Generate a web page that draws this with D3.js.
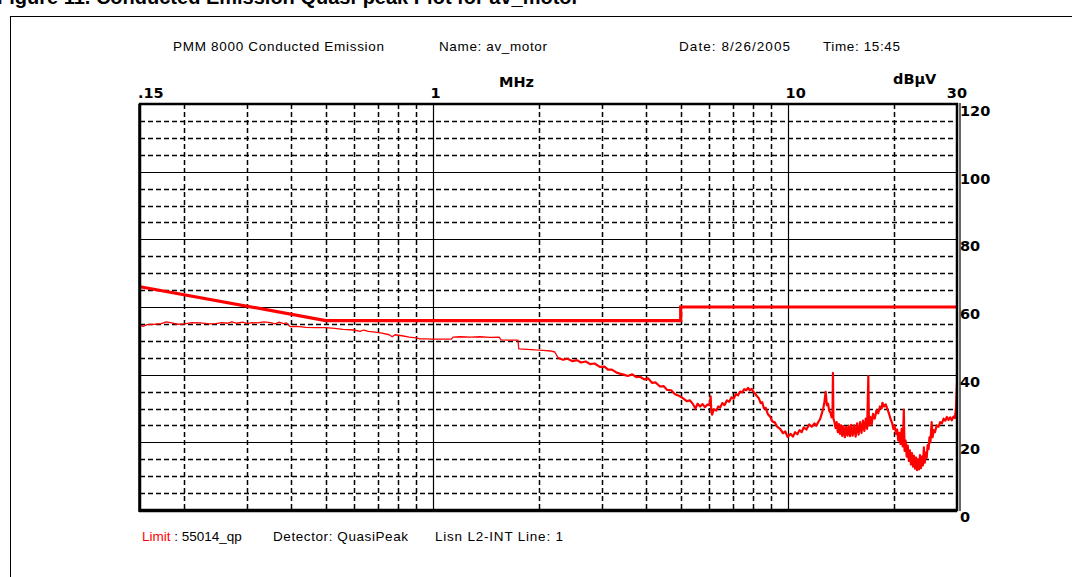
<!DOCTYPE html>
<html>
<head>
<meta charset="utf-8">
<script src="https://cdn.jsdelivr.net/npm/d3@7"></script>
<style>
  body { margin: 0; background: #fff; }
  svg { display: block; }
  .hdr { font-family: "Liberation Sans", Arial, sans-serif; font-size: 13.5px; fill: #000; }
  .ax { font-family: "DejaVu Sans", sans-serif; font-weight: bold; font-size: 14.5px; fill: #000; }
</style>
</head>
<body>
<main></main>
<script>
// limit line 55014 quasi-peak
var limitFreq = [0.15, 0.5, 5, 5, 30];
var limitDb = [66, 56, 56, 60, 60];

var trace = [
  [0.150,54.7],[0.153,54.3],[0.157,54.8],[0.165,54.9],[0.172,55.1],[0.178,55.6],[0.184,55.3],[0.192,54.9],
  [0.200,55.0],[0.210,55.4],[0.222,55.3],[0.235,55.0],[0.245,55.1],[0.255,55.4],[0.265,55.2],[0.272,55.6],
  [0.280,55.2],[0.292,55.5],[0.300,55.1],[0.310,55.4],[0.322,55.3],[0.335,55.6],[0.350,55.4],[0.360,55.0],
  [0.370,55.5],[0.380,55.1],[0.388,55.3],[0.397,54.2],[0.415,54.3],[0.440,54.0],[0.470,53.9],[0.500,53.9],
  [0.530,53.7],[0.560,53.4],[0.600,53.2],[0.625,52.8],[0.640,53.2],[0.660,52.8],[0.689,52.6],[0.720,52.3],
  [0.755,51.8],[0.770,51.2],[0.784,51.8],[0.820,51.5],[0.860,51.1],[0.900,50.9],[0.922,50.6],[0.960,50.6],
  [1.000,50.5],[1.060,50.5],[1.130,50.5],[1.142,51.1],[1.200,51.2],[1.280,51.1],[1.360,51.2],[1.450,51.0],
  [1.540,51.1],[1.560,50.3],[1.650,50.2],[1.740,50.2],[1.750,47.6],[1.850,47.5],[1.950,47.3],[2.050,47.2],
  [2.150,47.0],[2.210,46.7],[2.260,44.9],[2.330,44.4],[2.400,44.7],[2.480,44.0],[2.550,44.3],[2.620,43.6],
  [2.700,43.9],[2.780,43.1],[2.860,43.3],[2.960,42.3],[3.050,42.4],[3.120,41.5],[3.200,41.5],[3.300,40.6],
  [3.370,40.3],[3.450,40.0],[3.550,39.6],[3.650,40.1],[3.750,39.3],[3.840,39.4],[3.950,38.6],[4.050,38.9],
  [4.150,37.6],[4.250,37.7],[4.370,36.5],[4.480,36.6],[4.580,35.5],[4.700,35.4],[4.820,34.2],[4.980,33.6],
  [5.080,33.0],[5.200,32.2],[5.310,32.4],[5.420,31.2],[5.500,30.0],[5.580,31.4],[5.670,30.6],[5.760,31.3],
  [5.850,30.4],[5.950,31.2],[6.030,31.0],[6.070,33.6],[6.100,29.0],[6.130,28.2],[6.200,29.8],[6.300,29.4],
  [6.380,30.6],[6.460,30.3],[6.550,31.6],[6.640,31.0],[6.750,32.4],[6.850,32.0],[6.950,33.3],[7.050,32.9],
  [7.150,34.3],[7.250,33.9],[7.350,35.0],[7.450,34.8],[7.550,35.7],[7.650,35.4],[7.740,36.1],[7.820,35.4],
  [7.920,35.8],[8.020,34.9],[8.100,34.4],[8.200,33.6],[8.300,33.0],[8.400,31.6],[8.480,31.9],[8.580,30.0],
  [8.680,30.2],[8.800,28.3],[8.930,27.6],[9.050,26.2],[9.200,25.9],[9.350,24.6],[9.530,24.0],[9.700,22.7],
  [9.850,23.2],[10.00,21.6],[10.20,22.5],[10.35,21.7],[10.50,23.0],[10.65,22.4],[10.80,23.6],[10.95,23.0],
  [11.10,24.4],[11.30,23.8],[11.50,25.3],[11.70,24.6],[11.90,25.6],[12.05,24.9],[12.20,26.0],[12.35,26.9],
  [12.50,28.7],[12.60,30.0],[12.70,32.0],[12.80,34.9],[12.90,31.0],[13.00,31.4],[13.10,29.3],[13.20,28.8],
  [13.30,27.4],[13.38,28.0],[13.42,40.5],[13.46,27.0],[13.55,26.0],[13.65,24.2],[13.75,26.0],[13.85,23.0],
  [13.95,25.4],[14.05,22.5],[14.15,25.0],[14.25,21.9],[14.35,24.8],[14.50,21.5],[14.60,24.6],[14.75,22.0],
  [14.85,24.9],[15.00,21.8],[15.10,25.2],[15.25,22.0],[15.40,25.0],[15.55,21.7],[15.70,25.6],[15.85,22.3],
  [16.00,26.0],[16.15,22.8],[16.30,26.4],[16.45,23.4],[16.60,27.0],[16.75,24.0],[16.88,39.6],[16.95,25.0],
  [17.10,27.5],[17.25,25.2],[17.40,28.4],[17.60,27.0],[17.80,29.5],[18.00,28.6],[18.20,30.6],[18.40,30.0],
  [18.50,31.7],[18.70,30.6],[18.90,31.2],[19.10,29.8],[19.30,28.5],[19.50,26.9],[19.70,25.7],[19.85,24.0],
  [20.00,25.0],[20.20,22.5],[20.35,23.8],[20.50,20.5],[20.65,22.8],[20.80,19.5],[20.95,24.0],[21.10,18.8],
  [21.25,29.6],[21.35,17.5],[21.50,20.5],[21.65,15.8],[21.80,19.0],[21.95,14.5],[22.10,17.6],[22.25,13.5],
  [22.40,16.8],[22.55,12.8],[22.70,16.0],[22.85,12.2],[23.00,15.5],[23.15,11.8],[23.30,15.0],[23.45,12.0],
  [23.60,16.2],[23.75,12.4],[23.90,15.8],[24.05,13.2],[24.20,18.5],[24.35,14.0],[24.50,17.0],[24.65,15.5],
  [24.80,19.2],[24.95,18.0],[25.10,21.5],[25.25,20.0],[25.45,26.0],[25.60,21.5],[25.80,23.6],[26.00,23.0],
  [26.30,25.0],[26.60,24.6],[26.90,26.0],[27.20,25.6],[27.50,27.0],[27.80,26.4],[28.10,27.5],[28.40,26.6],
  [28.70,27.4],[29.00,26.5],[29.30,27.6],[29.60,27.2],[29.80,30.0],[29.90,33.5],[30.00,37.5]
];

var yMajor = [20, 40, 60, 80, 100];
var yMinor = [5, 10, 15, 25, 30, 35, 45, 50, 55, 65, 70, 75, 85, 90, 95, 105, 110, 115];
var yLabels = [0, 20, 40, 60, 80, 100, 120];
var xMajor = [1, 10];
var xMinor = [0.2, 0.3, 0.4, 0.5, 0.6, 0.7, 0.8, 0.9, 2, 3, 4, 5, 6, 7, 8, 9, 20];
var xLabelText = [".15", "1", "10"];
var xLabelFreq = [0.15, 1, 10];

var margin = { top: 104, left: 140, right: 115, bottom: 67 };
var W = 1072, H = 577;
var w = W - margin.left - margin.right;
var h = H - margin.top - margin.bottom;

var svg = d3.select("main").append("svg")
            .attr("width", W)
            .attr("height", H);

// caption strip, cut off at top of page like the source scan
svg.append("text")
   .attr("x", -3).attr("y", 4)
   .attr("font-family", "Liberation Sans, Arial, sans-serif")
   .attr("font-weight", "bold")
   .attr("font-size", 20)
   .text("Figure 11. Conducted Emission Quasi-peak Plot for av_motor");

// page frame
svg.append("rect")
   .attr("x", 10.5).attr("y", 16.5)
   .attr("width", 1080).attr("height", 600)
   .attr("fill", "none").attr("stroke", "#000").attr("stroke-width", 1);

var x = d3.scaleLog().domain([0.15, 30]).range([0, w]);
var y = d3.scaleLinear().domain([0, 120]).range([h, 0]);

var g = svg.append("g").attr("transform", "translate(" + margin.left + "," + margin.top + ")");

// grid
g.selectAll(".hmin").data(yMinor).enter().append("line")
 .attr("x1", 0).attr("x2", w)
 .attr("y1", function(d) { return Math.round(y(d)) + 0.5; })
 .attr("y2", function(d) { return Math.round(y(d)) + 0.5; })
 .attr("stroke", "#000").attr("stroke-width", 1.5).attr("stroke-dasharray", "5,3");
g.selectAll(".vmin").data(xMinor).enter().append("line")
 .attr("y1", 0).attr("y2", h)
 .attr("x1", function(d) { return Math.round(x(d)) + 0.5; })
 .attr("x2", function(d) { return Math.round(x(d)) + 0.5; })
 .attr("stroke", "#000").attr("stroke-width", 1.5).attr("stroke-dasharray", "5,3");
g.selectAll(".hmaj").data(yMajor).enter().append("line")
 .attr("x1", 0).attr("x2", w)
 .attr("y1", function(d) { return Math.round(y(d)) + 0.5; })
 .attr("y2", function(d) { return Math.round(y(d)) + 0.5; })
 .attr("stroke", "#000").attr("stroke-width", 1.2);
g.selectAll(".vmaj").data(xMajor).enter().append("line")
 .attr("y1", 0).attr("y2", h)
 .attr("x1", function(d) { return Math.round(x(d)) + 0.5; })
 .attr("x2", function(d) { return Math.round(x(d)) + 0.5; })
 .attr("stroke", "#000").attr("stroke-width", 1.2);

// limit
var limitPts = limitFreq.map(function(f, i) { return [f, limitDb[i]]; });
var line = d3.line()
             .x(function(d) { return x(d[0]); })
             .y(function(d) { return y(d[1]); });
g.append("path").datum(limitPts)
 .attr("d", line)
 .attr("fill", "none").attr("stroke", "#ff0000").attr("stroke-width", 3.2);

// trace: thin below ~2.3 MHz, fuzzier (wider) above where the scan is noisy
g.append("path").datum(trace.filter(function(d) { return d[0] <= 2.26; }))
 .attr("d", line)
 .attr("fill", "none").attr("stroke", "#ff0000").attr("stroke-width", 1.3)
 .attr("stroke-linejoin", "round");
g.append("path").datum(trace.filter(function(d) { return d[0] >= 2.26; }))
 .attr("d", line)
 .attr("fill", "none").attr("stroke", "#ff0000").attr("stroke-width", 2.2)
 .attr("stroke-linejoin", "round");

// plot border
g.append("rect")
 .attr("x", 0).attr("y", 0).attr("width", w).attr("height", h)
 .attr("fill", "none").attr("stroke", "#000").attr("stroke-width", 2.5);
g.append("line")
 .attr("x1", -1).attr("x2", -1).attr("y1", 0).attr("y2", h + 2)
 .attr("stroke", "#000").attr("stroke-width", 1.5);
g.append("line")
 .attr("x1", -1).attr("x2", w).attr("y1", h + 1.5).attr("y2", h + 1.5)
 .attr("stroke", "#000").attr("stroke-width", 1.5);
g.append("line")
 .attr("x1", w + 3).attr("x2", w + 3).attr("y1", -1).attr("y2", h + 1)
 .attr("stroke", "#000").attr("stroke-width", 1.2);

// y labels on right
g.selectAll(".ylab").data(yLabels).enter().append("text")
 .attr("class", "ax")
 .attr("x", w + 3)
 .attr("y", function(d) { return y(d) + 12; })
 .text(function(d) { return d; });

// x labels on top
g.selectAll(".xlab").data(xLabelFreq).enter().append("text")
 .attr("class", "ax")
 .attr("x", function(d, i) { return x(d) - (i == 0 ? 2 : 2); })
 .attr("y", -6)
 .text(function(d, i) { return xLabelText[i]; });
g.append("text").attr("class", "ax")
 .attr("x", w + 10).attr("y", -6).attr("text-anchor", "end").text("30");
g.append("text").attr("class", "ax")
 .attr("x", 359).attr("y", -17).attr("font-size", 13.5).text("MHz");
g.append("text").attr("class", "ax")
 .attr("x", 753).attr("y", -20).attr("font-size", 13.5).text("dBµV");

// header
var hdr = svg.append("g").attr("class", "hdr");
hdr.append("text").attr("x", 173).attr("y", 51).attr("textLength", 211).text("PMM 8000 Conducted Emission");
hdr.append("text").attr("x", 439).attr("y", 51).attr("textLength", 108).text("Name: av_motor");
hdr.append("text").attr("x", 679).attr("y", 51).attr("textLength", 111).text("Date: 8/26/2005");
hdr.append("text").attr("x", 823).attr("y", 51).attr("textLength", 77).text("Time: 15:45");

// footer
var ft = svg.append("text").attr("class", "hdr").attr("x", 142).attr("y", 541).attr("font-size", 14);
ft.append("tspan").attr("fill", "#ff0000").text("Limit");
ft.append("tspan").text(" : 55014_qp");
svg.append("text").attr("class", "hdr").attr("x", 273).attr("y", 541).attr("font-size", 14)
   .attr("textLength", 135).text("Detector: QuasiPeak");
svg.append("text").attr("class", "hdr").attr("x", 435).attr("y", 541).attr("font-size", 14)
   .attr("textLength", 128).text("Lisn L2-INT  Line: 1");
</script>
</body>
</html>
